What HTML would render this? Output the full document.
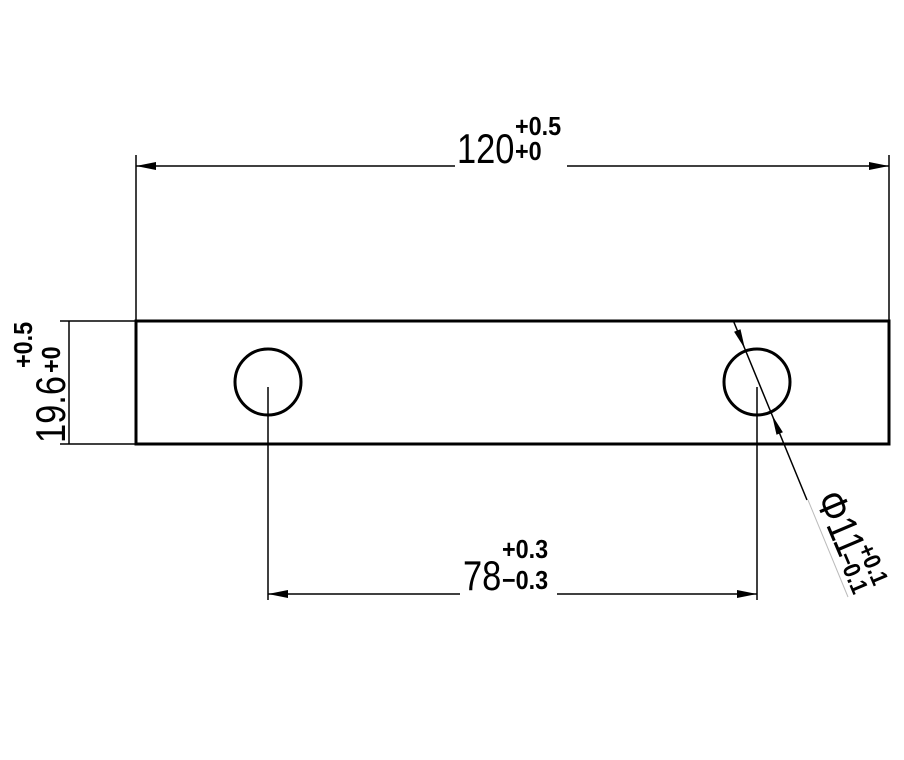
<!DOCTYPE html>
<html><head><style>body{margin:0;background:#fff}svg{display:block}</style></head><body>
<svg width="904" height="760" viewBox="0 0 904 760" xmlns="http://www.w3.org/2000/svg">
<g stroke="#000" fill="none">
<rect x="136" y="321" width="753" height="123" stroke-width="3"/>
<circle cx="268" cy="382" r="33" stroke-width="3"/>
<circle cx="757" cy="382" r="33" stroke-width="3"/>
<g stroke-width="1.5">
<line x1="136" y1="155" x2="136" y2="321"/>
<line x1="889" y1="155" x2="889" y2="321"/>
<line x1="136" y1="166" x2="455" y2="166"/>
<line x1="567" y1="166" x2="889" y2="166"/>
<line x1="60" y1="321" x2="136" y2="321"/>
<line x1="60" y1="444" x2="136" y2="444"/>
<line x1="69" y1="321" x2="69" y2="444"/>
<line x1="268" y1="387" x2="268" y2="600"/>
<line x1="757" y1="387" x2="757" y2="600"/>
<line x1="268" y1="594" x2="460" y2="594"/>
<line x1="557" y1="594" x2="757" y2="594"/>
<line x1="733" y1="320" x2="807" y2="500"/>
</g>
<line x1="808" y1="500" x2="848" y2="597" stroke="#bbb" stroke-width="1"/>
</g>
<g fill="#000">
<polygon points="136,166 156,162 156,170"/>
<polygon points="889,166 869,162 869,170"/>
<polygon points="268,594 288,590 288,598"/>
<polygon points="757,594 737,590 737,598"/>
<polygon points="745,349 734.1,331.8 740.5,329.2"/>
<polygon points="772,415 776.5,434.8 782.9,432.2"/>
</g>
<g font-family="Liberation Sans, sans-serif" font-weight="bold" fill="#000">
<text x="457" y="163" font-size="42" font-weight="normal" transform="translate(457 163) scale(0.82 1) translate(-457 -163)">120</text>
<text x="515" y="135" font-size="26" transform="translate(515 135) scale(0.9 1) translate(-515 -135)">+0.5</text>
<text x="515" y="160" font-size="26" transform="translate(515 160) scale(0.9 1) translate(-515 -160)">+0</text>
<text x="463" y="590" font-size="42" font-weight="normal" transform="translate(463 590) scale(0.82 1) translate(-463 -590)">78</text>
<text x="502" y="558" font-size="26" transform="translate(502 558) scale(0.9 1) translate(-502 -558)">+0.3</text>
<text x="502" y="589" font-size="26" transform="translate(502 589) scale(0.9 1) translate(-502 -589)">−0.3</text>
<g transform="translate(65 443) rotate(-90)">
<text font-size="42" font-weight="normal" transform="scale(0.82 1)">19.6</text>
<text font-size="26" transform="translate(75 -33) scale(0.9 1)">+0.5</text>
<text font-size="26" transform="translate(70 -5) scale(0.9 1)">+0</text>
</g>
<g transform="translate(811 500) rotate(67)">
<text y="-4" font-size="42" font-weight="normal" transform="scale(0.85 1)">Φ11</text>
<text font-size="24" transform="translate(62 -24) scale(0.9 1)">+0.1</text>
<text font-size="24" transform="translate(62 -2) scale(0.9 1)">−0.1</text>
</g>
</g>
</svg>
</body></html>
